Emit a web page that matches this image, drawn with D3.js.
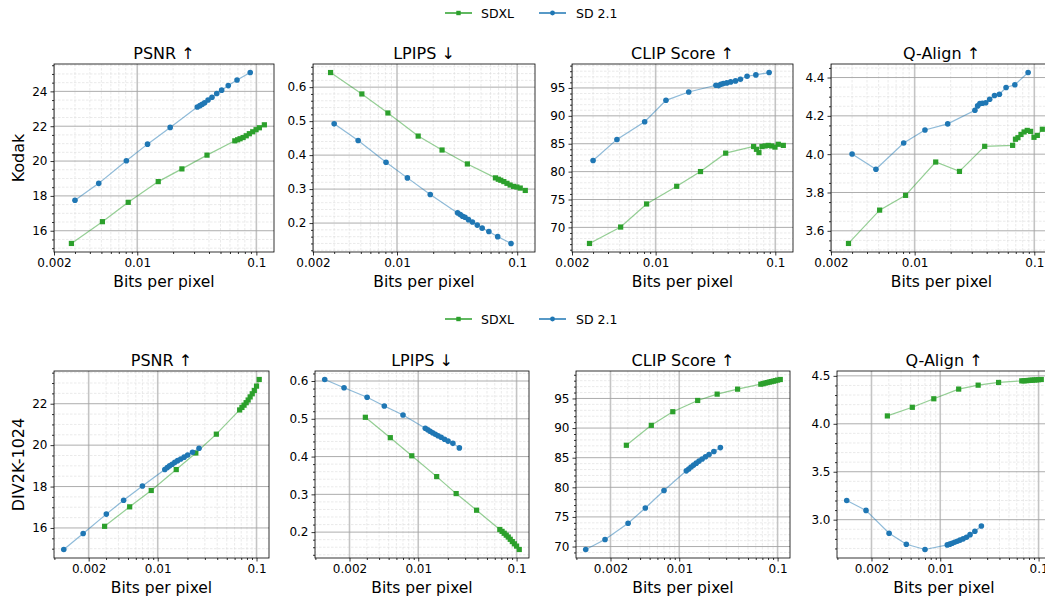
<!DOCTYPE html>
<html lang="en">
<head>
<meta charset="UTF-8">
<title>Rate vs metrics</title>
<script src="https://d3js.org/d3.v7.min.js"></script>
<style>
  body { margin: 0; background: #fff; }
  text { font-family: "DejaVu Sans", sans-serif; }
</style>
</head>
<body>
<script>
// ---- data ----
const models = ["SDXL", "SD 2.1"];
const colors = { "SDXL": "#2ca02c", "SD 2.1": "#1f77b4" };
const metricTitles = ["PSNR ↑", "LPIPS ↓", "CLIP Score ↑", "Q-Align ↑"];
const xTicks = [0.002, 0.01, 0.1];
const xTickLabels = ["0.002", "0.01", "0.1"];

// Kodak
const kodakBppSDXL = [0.0028, 0.0051, 0.0084, 0.0150, 0.0237, 0.0385, 0.0659, 0.0696, 0.0730, 0.0774, 0.0822, 0.0873, 0.0932, 0.0994, 0.1060, 0.1167];
const kodakBppSD21 = [0.0030, 0.00475, 0.0081, 0.0122, 0.0189, 0.0319, 0.0336, 0.0351, 0.0368, 0.0393, 0.0424, 0.0465, 0.0511, 0.0581, 0.0688, 0.0888];
const kodakPsnrSDXL = [15.27, 16.52, 17.63, 18.82, 19.55, 20.34, 21.16, 21.22, 21.28, 21.35, 21.45, 21.57, 21.68, 21.80, 21.91, 22.08];
const kodakPsnrSD21 = [17.75, 18.72, 20.02, 20.97, 21.93, 23.10, 23.18, 23.26, 23.35, 23.50, 23.66, 23.88, 24.07, 24.33, 24.65, 25.08];
const kodakLpipsSDXL = [0.643, 0.580, 0.524, 0.456, 0.415, 0.374, 0.333, 0.329, 0.326, 0.322, 0.317, 0.312, 0.308, 0.306, 0.303, 0.296];
const kodakLpipsSD21 = [0.492, 0.443, 0.379, 0.333, 0.284, 0.230, 0.225, 0.220, 0.217, 0.210, 0.203, 0.194, 0.185, 0.175, 0.160, 0.140];
const kodakClipSDXL = [67.12, 70.06, 74.20, 77.37, 80.01, 83.31, 84.50, 84.00, 83.40, 84.50, 84.60, 84.70, 84.60, 84.40, 84.90, 84.70];
const kodakClipSD21 = [81.99, 85.77, 88.94, 92.78, 94.28, 95.48, 95.42, 95.66, 95.78, 95.90, 96.08, 96.26, 96.56, 97.10, 97.34, 97.76];
const kodakQalignSDXL = [3.534, 3.708, 3.785, 3.959, 3.910, 4.041, 4.046, 4.078, 4.086, 4.103, 4.116, 4.124, 4.119, 4.088, 4.098, 4.130];
const kodakQalignSD21 = [4.001, 3.921, 4.058, 4.126, 4.158, 4.229, 4.252, 4.264, 4.266, 4.268, 4.287, 4.306, 4.313, 4.348, 4.362, 4.426];

// DIV2K-1024
const div2kBppSDXL = [0.0029, 0.0052, 0.0086, 0.0154, 0.0243, 0.0392, 0.0675, 0.0712, 0.0748, 0.0785, 0.0823, 0.0862, 0.0905, 0.0950, 0.1000, 0.1065];
const div2kBppSD21 = [0.00112, 0.00176, 0.00302, 0.00452, 0.00700, 0.0118, 0.0125, 0.0132, 0.0140, 0.0149, 0.0159, 0.0171, 0.0185, 0.0201, 0.0225, 0.0262];
const div2kPsnrSDXL = [16.08, 17.02, 17.81, 18.82, 19.62, 20.53, 21.70, 21.82, 21.93, 22.05, 22.18, 22.33, 22.48, 22.64, 22.85, 23.17];
const div2kPsnrSD21 = [14.96, 15.73, 16.67, 17.34, 18.03, 18.82, 18.92, 19.00, 19.08, 19.17, 19.25, 19.33, 19.42, 19.52, 19.66, 19.85];
const div2kLpipsSDXL = [0.504, 0.450, 0.402, 0.347, 0.302, 0.258, 0.207, 0.202, 0.197, 0.192, 0.187, 0.181, 0.175, 0.169, 0.163, 0.154];
const div2kLpipsSD21 = [0.604, 0.582, 0.557, 0.534, 0.510, 0.475, 0.471, 0.467, 0.463, 0.459, 0.455, 0.451, 0.446, 0.441, 0.435, 0.423];
const div2kClipSDXL = [87.10, 90.46, 92.76, 94.66, 95.73, 96.57, 97.41, 97.50, 97.60, 97.68, 97.76, 97.84, 97.92, 98.00, 98.10, 98.20];
const div2kClipSD21 = [69.50, 71.18, 73.92, 76.50, 79.47, 82.78, 83.10, 83.42, 83.75, 84.08, 84.42, 84.78, 85.15, 85.55, 86.05, 86.70];
const div2kQalignSDXL = [4.082, 4.172, 4.261, 4.362, 4.403, 4.431, 4.448, 4.448, 4.450, 4.452, 4.454, 4.455, 4.457, 4.458, 4.460, 4.462];
const div2kQalignSD21 = [3.200, 3.097, 2.858, 2.744, 2.689, 2.737, 2.745, 2.754, 2.764, 2.775, 2.787, 2.800, 2.817, 2.844, 2.879, 2.934];

// y ticks per panel
const kodakYTicks = [[16, 18, 20, 22, 24], [0.2, 0.3, 0.4, 0.5, 0.6], [70, 75, 80, 85, 90, 95], [3.6, 3.8, 4.0, 4.2, 4.4]];
const div2kYTicks = [[16, 18, 20, 22], [0.2, 0.3, 0.4, 0.5, 0.6], [70, 75, 80, 85, 90, 95], [3.0, 3.5, 4.0, 4.5]];
const kodakYFmt = ["d", ".1f", "d", ".1f"];
const div2kYFmt = ["d", ".1f", "d", ".1f"];

// ---- layout ----
const width = 1045, height = 598;
const svg = d3.select("body").append("svg")
    .attr("width", width).attr("height", height);
svg.append("rect").attr("width", width).attr("height", height).attr("fill", "#fff");

const rows = [
    {
        name: "Kodak", top: 64, bottom: 252, legendY: 13,
        lefts: [54, 313, 572, 831], rights: [274, 535, 793, 1052],
        xDomain: [0.002, 0.1406],
        bpp: { "SDXL": kodakBppSDXL, "SD 2.1": kodakBppSD21 },
        metrics: [
            { "SDXL": kodakPsnrSDXL, "SD 2.1": kodakPsnrSD21 },
            { "SDXL": kodakLpipsSDXL, "SD 2.1": kodakLpipsSD21 },
            { "SDXL": kodakClipSDXL, "SD 2.1": kodakClipSD21 },
            { "SDXL": kodakQalignSDXL, "SD 2.1": kodakQalignSD21 }
        ],
        yTicks: kodakYTicks, yFmt: kodakYFmt
    },
    {
        name: "DIV2K-1024", top: 371, bottom: 558, legendY: 319,
        lefts: [54, 315, 576, 837], rights: [269, 529, 790, 1051],
        xDomain: null,
        bpp: { "SDXL": div2kBppSDXL, "SD 2.1": div2kBppSD21 },
        metrics: [
            { "SDXL": div2kPsnrSDXL, "SD 2.1": div2kPsnrSD21 },
            { "SDXL": div2kLpipsSDXL, "SD 2.1": div2kLpipsSD21 },
            { "SDXL": div2kClipSDXL, "SD 2.1": div2kClipSD21 },
            { "SDXL": div2kQalignSDXL, "SD 2.1": div2kQalignSD21 }
        ],
        yTicks: div2kYTicks, yFmt: div2kYFmt
    }
];

// minor y step like matplotlib AutoMinorLocator
function minorStep(ticks) {
    const step = ticks[1] - ticks[0];
    const mant = step / Math.pow(10, Math.floor(Math.log10(step) + 1e-9));
    const n = (Math.abs(mant - 1) < 1e-6 || Math.abs(mant - 5) < 1e-6) ? 5 : 4;
    return step / n;
}

function padLinear(vals) {
    const [a, b] = d3.extent(vals);
    const m = (b - a) * 0.05;
    return [a - m, b + m];
}
function padLog(vals) {
    const [a, b] = d3.extent(vals).map(Math.log10);
    const m = (b - a) * 0.05;
    return [Math.pow(10, a - m), Math.pow(10, b + m)];
}

let clipId = 0;

rows.forEach(row => {
    const allBpp = models.flatMap(m => row.bpp[m]);
    const xDomain = row.xDomain || padLog(allBpp);

    row.metrics.forEach((metric, i) => {
        const x0 = row.lefts[i], x1 = row.rights[i];
        const x = d3.scaleLog().domain(xDomain).range([x0, x1]);
        const y = d3.scaleLinear()
            .domain(padLinear(models.flatMap(m => metric[m])))
            .range([row.bottom, row.top]);

        const g = svg.append("g");
        const id = "clip" + (clipId++);
        g.append("clipPath").attr("id", id)
            .append("rect").attr("x", x0).attr("y", row.top)
            .attr("width", x1 - x0).attr("height", row.bottom - row.top);

        // minor grid x (log subs 2..9)
        const xMinor = [];
        for (let e = -4; e <= 0; e++) {
            for (let s = 2; s <= 9; s++) {
                const v = s * Math.pow(10, e);
                if (v >= xDomain[0] && v <= xDomain[1] &&
                    !xTicks.some(t => Math.abs(t - v) / t < 1e-6)) xMinor.push(v);
            }
        }
        const yt = row.yTicks[i];
        const ms = minorStep(yt);
        const yDom = y.domain();
        const yMinor = [];
        for (let k = Math.ceil(yDom[0] / ms); k * ms <= yDom[1]; k++) {
            const v = k * ms;
            if (!yt.some(t => Math.abs(t - v) < ms * 1e-3)) yMinor.push(v);
        }
        const xMajor = xTicks.filter(v => v >= xDomain[0] * 0.9999 && v <= xDomain[1]);

        const grid = g.append("g").attr("clip-path", `url(#${id})`);
        grid.selectAll(".xmin").data(xMinor).enter().append("line")
            .attr("x1", d => x(d)).attr("x2", d => x(d))
            .attr("y1", row.top).attr("y2", row.bottom)
            .attr("stroke", "#dcdcdc").attr("stroke-width", 0.6)
            .attr("stroke-dasharray", "2.5,1.5");
        grid.selectAll(".ymin").data(yMinor).enter().append("line")
            .attr("x1", x0).attr("x2", x1)
            .attr("y1", d => y(d)).attr("y2", d => y(d))
            .attr("stroke", "#dcdcdc").attr("stroke-width", 0.6)
            .attr("stroke-dasharray", "2.5,1.5");
        grid.selectAll(".xmaj").data(xMajor).enter().append("line")
            .attr("x1", d => x(d)).attr("x2", d => x(d))
            .attr("y1", row.top).attr("y2", row.bottom)
            .attr("stroke", "#c4c4c4").attr("stroke-width", 1.6);
        grid.selectAll(".ymaj").data(yt).enter().append("line")
            .attr("x1", x0).attr("x2", x1)
            .attr("y1", d => y(d)).attr("y2", d => y(d))
            .attr("stroke", "#a4a4a4").attr("stroke-width", 0.9);

        // series
        const plot = g.append("g").attr("clip-path", `url(#${id})`);
        models.forEach(m => {
            const pts = row.bpp[m].map((b, k) => [b, metric[m][k]]);
            plot.append("path")
                .datum(pts)
                .attr("d", d3.line().x(d => x(d[0])).y(d => y(d[1])))
                .attr("fill", "none")
                .attr("stroke", colors[m])
                .attr("stroke-opacity", 0.5)
                .attr("stroke-width", 1.2);
            if (m === "SDXL") {
                plot.selectAll(null).data(pts).enter().append("rect")
                    .attr("x", d => x(d[0]) - 2.6).attr("y", d => y(d[1]) - 2.6)
                    .attr("width", 5.2).attr("height", 5.2)
                    .attr("fill", colors[m]);
            } else {
                plot.selectAll(null).data(pts).enter().append("circle")
                    .attr("cx", d => x(d[0])).attr("cy", d => y(d[1]))
                    .attr("r", 2.8)
                    .attr("fill", colors[m]);
            }
        });

        // axes
        const fmt = d3.format(row.yFmt[i]);
        g.append("g").attr("transform", `translate(0,${row.bottom})`)
            .call(d3.axisBottom(x).tickValues(xMajor)
                .tickFormat(d => xTickLabels[xTicks.indexOf(d)])
                .tickSize(3.5).tickSizeOuter(0).tickPadding(3));
        g.append("g").attr("transform", `translate(0,${row.bottom})`)
            .call(d3.axisBottom(x).tickValues(xMinor).tickFormat("")
                .tickSize(2).tickSizeOuter(0));
        g.append("g").attr("transform", `translate(${x0},0)`)
            .call(d3.axisLeft(y).tickValues(yt).tickFormat(fmt)
                .tickSize(3.5).tickSizeOuter(0).tickPadding(3));
        g.append("g").attr("transform", `translate(${x0},0)`)
            .call(d3.axisLeft(y).tickValues(yMinor).tickFormat("")
                .tickSize(2).tickSizeOuter(0));
        g.selectAll(".domain").remove();
        g.selectAll(".tick line").attr("stroke", "#000").attr("stroke-width", 0.8);
        g.selectAll(".tick text").attr("fill", "#000")
            .style("font-size", "12px").style("font-family", "DejaVu Sans");

        // frame
        g.append("rect").attr("x", x0).attr("y", row.top)
            .attr("width", x1 - x0).attr("height", row.bottom - row.top)
            .attr("fill", "none").attr("stroke", "#000").attr("stroke-width", 0.8);

        // title and x label
        g.append("text").attr("x", (x0 + x1) / 2).attr("y", row.top - 5.5)
            .attr("text-anchor", "middle").style("font-size", "16px")
            .text(metricTitles[i]);
        g.append("text").attr("x", (x0 + x1) / 2).attr("y", row.bottom + 34.5)
            .attr("text-anchor", "middle").style("font-size", "15.5px")
            .text("Bits per pixel");
    });

    // row label
    svg.append("text")
        .attr("transform", `translate(24,${(row.top + row.bottom) / 2}) rotate(-90)`)
        .attr("text-anchor", "middle").style("font-size", "16px")
        .text(row.name);

    // legend
    const leg = svg.append("g");
    const items = [
        { m: "SDXL", lx: 445, tx: 481 },
        { m: "SD 2.1", lx: 539, tx: 576 }
    ];
    items.forEach(it => {
        leg.append("line").attr("x1", it.lx).attr("x2", it.lx + 27)
            .attr("y1", row.legendY).attr("y2", row.legendY)
            .attr("stroke", colors[it.m]).attr("stroke-width", 1.5);
        if (it.m === "SDXL") {
            leg.append("rect").attr("x", it.lx + 13.5 - 2.2).attr("y", row.legendY - 2.2)
                .attr("width", 4.4).attr("height", 4.4).attr("fill", colors[it.m]);
        } else {
            leg.append("circle").attr("cx", it.lx + 13.5).attr("cy", row.legendY)
                .attr("r", 2.4).attr("fill", colors[it.m]);
        }
        leg.append("text").attr("x", it.tx).attr("y", row.legendY + 4.5)
            .style("font-size", "12.5px").text(it.m);
    });
});
</script>
</body>
</html>
